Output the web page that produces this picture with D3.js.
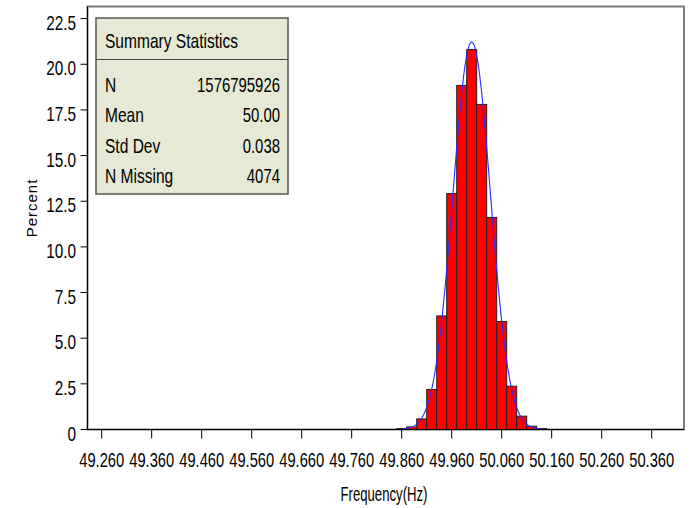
<!DOCTYPE html>
<html>
<head>
<meta charset="utf-8">
<script src="https://cdn.jsdelivr.net/npm/d3@7"></script>
<style>
  body { margin: 0; background: #fff; }
  svg { display: block; }
  text { font-family: "Liberation Sans", Arial, sans-serif; fill: #000; }
</style>
</head>
<body>
<div id="chart"></div>
<script>
// Histogram of grid frequency, bin width 0.02 Hz
const binMids = [49.86, 49.88, 49.90, 49.92, 49.94, 49.96, 49.98, 50.00, 50.02, 50.04, 50.06, 50.08, 50.10, 50.12, 50.14];
const percents = [0.05, 0.14, 0.58, 2.19, 6.22, 12.92, 18.84, 20.81, 17.80, 11.61, 5.91, 2.37, 0.73, 0.18, 0.05];
const binWidth = 0.02;

// Fitted normal curve parameters
const fitMean = 50.0;
const fitSigma = 0.0376;

const xTicks = [49.26, 49.36, 49.46, 49.56, 49.66, 49.76, 49.86, 49.96, 50.06, 50.16, 50.26, 50.36];
const yTicks = [0, 2.5, 5, 7.5, 10, 12.5, 15, 17.5, 20, 22.5];

const statLabels = ["N", "Mean", "Std Dev", "N Missing"];
const statValues = ["1576795926", "50.00", "0.038", "4074"];

const width = 690, height = 508;
const frame = { left: 87.5, right: 684, top: 6.5, bottom: 429.5 };
const fontSize = "21px";
const narrow = 0.73; // squeeze factor, mimics the tall condensed SAS font

const svg = d3.select("#chart").append("svg")
    .attr("width", width)
    .attr("height", height);

// squeeze a text horizontally (no narrow font installed)
function squeeze(sel, factor) {
    sel.each(function () {
        const w = this.getComputedTextLength();
        d3.select(this).attr("textLength", w * factor).attr("lengthAdjust", "spacingAndGlyphs");
    });
}

// Scales
const x = d3.scaleLinear().domain([49.26, 50.36]).range([101.7, 651.7]);
const y = d3.scaleLinear().domain([0, 22.5]).range([frame.bottom, 18.6]);

// Frame (top and right, gray)
svg.append("rect")
    .attr("x", frame.left)
    .attr("y", frame.top)
    .attr("width", frame.right - frame.left)
    .attr("height", frame.bottom - frame.top)
    .attr("fill", "none")
    .attr("stroke", "#7a7a7a")
    .attr("stroke-width", 2);

// Bars
svg.selectAll(".bar")
    .data(binMids)
    .enter().append("rect")
    .attr("class", "bar")
    .attr("x", d => x(d - binWidth / 2))
    .attr("width", d => x(d + binWidth / 2) - x(d - binWidth / 2))
    .attr("y", (d, i) => y(percents[i]))
    .attr("height", (d, i) => y(0) - y(percents[i]))
    .attr("fill", "#ff0000")
    .attr("stroke", "#222")
    .attr("stroke-width", 1);

// Normal curve
const curveXs = d3.range(49.85, 50.1501, 0.001);
const normal = v => binWidth * 100 / (fitSigma * Math.sqrt(2 * Math.PI)) *
    Math.exp(-0.5 * Math.pow((v - fitMean) / fitSigma, 2));
svg.append("path")
    .datum(curveXs)
    .attr("fill", "none")
    .attr("stroke", "#2a2aff")
    .attr("stroke-width", 1.1)
    .attr("d", d3.line().x(d => x(d)).y(d => y(normal(d))));

// Axes lines
svg.append("line")
    .attr("x1", frame.left).attr("x2", frame.right)
    .attr("y1", frame.bottom).attr("y2", frame.bottom)
    .attr("stroke", "#000");
svg.append("line")
    .attr("x1", frame.left).attr("x2", frame.left)
    .attr("y1", frame.top).attr("y2", frame.bottom)
    .attr("stroke", "#000");

// X ticks and labels
const xt = svg.selectAll(".xtick").data(xTicks).enter().append("g")
    .attr("class", "xtick")
    .attr("transform", d => `translate(${x(d)},0)`);
xt.append("line")
    .attr("y1", frame.bottom).attr("y2", frame.bottom + 9)
    .attr("stroke", "#000");
xt.append("text")
    .attr("y", 466.5)
    .attr("text-anchor", "middle")
    .style("font-size", fontSize)
    .attr("textLength", 45)
    .attr("lengthAdjust", "spacingAndGlyphs")
    .text(d => d3.format(".3f")(d));

// Y ticks and labels
const yt = svg.selectAll(".ytick").data(yTicks).enter().append("g")
    .attr("class", "ytick")
    .attr("transform", d => `translate(0,${y(d)})`);
yt.append("line")
    .attr("x1", frame.left - 7).attr("x2", frame.left)
    .attr("stroke", "#000");
yt.append("text")
    .attr("x", 76)
    .attr("y", 11)
    .attr("text-anchor", "end")
    .style("font-size", fontSize)
    .text(d => d === 0 ? "0" : d3.format(".1f")(d))
    .call(squeeze, narrow);

// Axis titles
svg.append("text")
    .attr("x", 384)
    .attr("y", 501)
    .attr("text-anchor", "middle")
    .style("font-size", fontSize)
    .attr("textLength", 87)
    .attr("lengthAdjust", "spacingAndGlyphs")
    .text("Frequency(Hz)");

svg.append("text")
    .attr("transform", "translate(37,208) rotate(-90)")
    .attr("text-anchor", "middle")
    .style("font-size", "15px")
    .style("letter-spacing", "1px")
    .text("Percent");

// Summary statistics inset
const box = svg.append("g").attr("transform", "translate(96,18)");
box.append("rect")
    .attr("width", 192)
    .attr("height", 176)
    .attr("fill", "#e6e9d3")
    .attr("stroke", "#555")
    .attr("stroke-width", 1.5);
box.append("line")
    .attr("x1", 0).attr("x2", 192)
    .attr("y1", 41.5).attr("y2", 41.5)
    .attr("stroke", "#444")
    .attr("stroke-width", 1);
box.append("text")
    .attr("x", 9)
    .attr("y", 30)
    .style("font-size", fontSize)
    .text("Summary Statistics")
    .call(squeeze, 0.74);

const rows = box.selectAll(".stat").data(statLabels).enter().append("g")
    .attr("class", "stat")
    .attr("transform", (d, i) => `translate(0,${73.5 + i * 30.5})`);
rows.append("text")
    .attr("x", 9)
    .style("font-size", fontSize)
    .text(d => d)
    .call(squeeze, 0.74);
rows.append("text")
    .attr("x", 184)
    .attr("text-anchor", "end")
    .style("font-size", fontSize)
    .text((d, i) => statValues[i])
    .call(squeeze, 0.71);
</script>
</body>
</html>
